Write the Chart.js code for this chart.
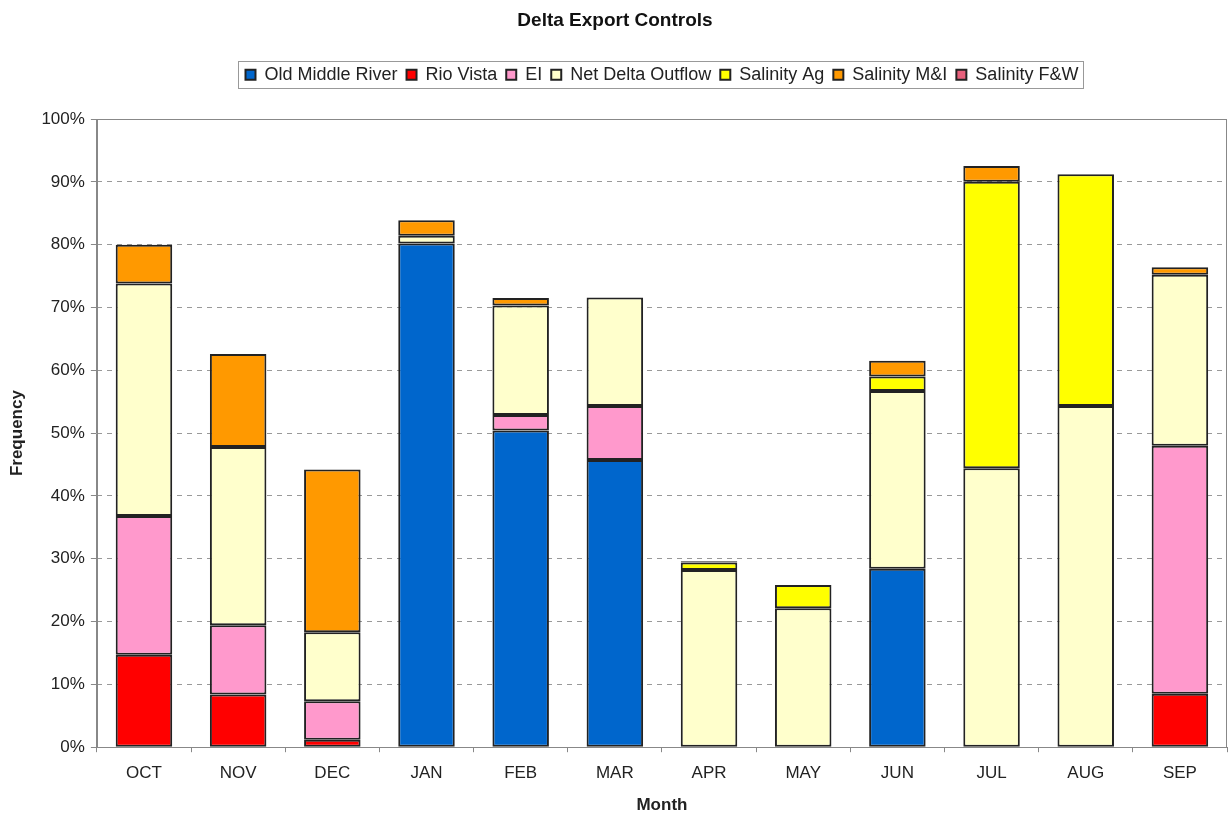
<!DOCTYPE html>
<html>
<head>
<meta charset="utf-8">
<script src="https://cdn.jsdelivr.net/npm/chart.js@4/dist/chart.umd.min.js"></script>
<style>
  html, body { margin: 0; padding: 0; background: #fff; }
  canvas { display: block; }
</style>
</head>
<body>
<canvas id="chart" width="1230" height="817"></canvas>
<script>
var months = ['OCT', 'NOV', 'DEC', 'JAN', 'FEB', 'MAR', 'APR', 'MAY', 'JUN', 'JUL', 'AUG', 'SEP'];

// percent of time each control governs exports, stacked per month
var oldMiddleRiver  = [null, null, null, 80.2, 50.4, 45.7, null, null, 28.4, null, null, null];
var rioVista        = [14.7, 8.4, 1.2, null, null, null, null, null, null, null, null, 8.5];
var ei              = [22.1, 11.0, 6.1, null, 2.5, 8.6, null, null, null, null, null, 39.5];
var netDeltaOutflow = [37.0, 28.4, 11.0, 1.2, 17.4, 17.3, 28.2, 22.1, 28.3, 44.4, 54.3, 27.2];
var salinityAg      = [null, null, null, null, null, null, 1.2, 3.7, 2.3, 45.6, 36.9, null];
var salinityMI      = [6.2, 14.8, 25.9, 2.5, 1.2, null, 0.2, null, 2.5, 2.5, null, 1.2];
var salinityFW      = [null, null, null, null, null, null, null, null, null, null, null, null];

var yTicks = [0, 10, 20, 30, 40, 50, 60, 70, 80, 90, 100];

var legendBorder = {
  id: 'legendBorder',
  afterDraw: function(chart) {
    var boxes = chart.legend.legendHitBoxes;
    if (!boxes || !boxes.length) return;
    var l = Infinity, r = -Infinity, t = Infinity, b = -Infinity;
    boxes.forEach(function(h) {
      l = Math.min(l, h.left); r = Math.max(r, h.left + h.width);
      t = Math.min(t, h.top); b = Math.max(b, h.top + h.height);
    });
    var ctx = chart.ctx;
    ctx.save();
    ctx.strokeStyle = '#999';
    ctx.lineWidth = 1;
    ctx.strokeRect(Math.round(l - 7) + 0.5, Math.round(t - 5) + 0.5, Math.round(r - l + 12), Math.round(b - t + 9));
    ctx.restore();
  }
};

var plotBorder = {
  id: 'plotBorder',
  afterDatasetsDraw: function(chart) {
    var a = chart.chartArea, ctx = chart.ctx;
    ctx.save();
    ctx.strokeStyle = '#888';
    ctx.lineWidth = 1;
    ctx.strokeRect(Math.round(a.left) + 0.5, Math.round(a.top) + 0.5, Math.round(a.right - a.left) - 1, Math.round(a.bottom - a.top));
    ctx.restore();
  }
};

function series(label, values, color) {
  return {
    label: label,
    data: values,
    backgroundColor: color,
    borderColor: '#222',
    borderWidth: 2,
    borderSkipped: false,
    barPercentage: 0.6,
    categoryPercentage: 1.0
  };
}

Chart.defaults.font.family = '"Liberation Sans", Arial, sans-serif';
Chart.defaults.color = '#222';

new Chart(document.getElementById('chart').getContext('2d'), {
  type: 'bar',
  data: {
    labels: months,
    datasets: [
      series('Old Middle River', oldMiddleRiver, '#0066CC'),
      series('Rio Vista', rioVista, '#FF0000'),
      series('EI', ei, '#FF99CC'),
      series('Net Delta Outflow', netDeltaOutflow, '#FFFFCC'),
      series('Salinity Ag', salinityAg, '#FFFF00'),
      series('Salinity M&I', salinityMI, '#FF9900'),
      series('Salinity F&W', salinityFW, '#E8607C')
    ]
  },
  options: {
    responsive: false,
    animation: false,
    layout: { padding: { left: 3, right: 3, top: 0, bottom: 1 } },
    plugins: {
      title: {
        display: true,
        text: 'Delta Export Controls',
        font: { size: 19, weight: 'bold' },
        color: '#111',
        padding: { top: 9, bottom: 25 }
      },
      subtitle: {
        // empty spacer between legend and plot area
        display: true,
        text: '',
        weight: 500,
        font: { size: 1 },
        padding: { top: 0, bottom: 24 }
      },
      legend: {
        display: true,
        position: 'top',
        fullSize: false,
        labels: {
          boxWidth: 10,
          boxHeight: 10,
          padding: 9,
          font: { size: 18 },
          color: '#222'
        }
      },
      tooltip: { enabled: false }
    },
    scales: {
      x: {
        stacked: true,
        grid: { display: true, drawOnChartArea: false, drawTicks: true, tickLength: 5, color: '#888', offset: true },
        border: { color: '#888' },
        ticks: { font: { size: 17 }, color: '#222', padding: 11 },
        title: { display: true, text: 'Month', font: { size: 17, weight: 'bold' }, color: '#222', padding: { top: 1, bottom: 0 } }
      },
      y: {
        stacked: true,
        min: 0,
        max: 100,
        afterBuildTicks: function(axis) {
          axis.ticks = yTicks.map(function(v) { return { value: v }; });
        },
        grid: { color: '#999', tickLength: 6, tickColor: '#888' },
        border: { color: '#888', dash: [5, 5] },
        ticks: {
          font: { size: 17 },
          color: '#222',
          padding: 6,
          callback: function(v) { return v + '%'; }
        },
        title: { display: true, text: 'Frequency', font: { size: 17, weight: 'bold' }, color: '#222', padding: { top: 4, bottom: 8 } }
      }
    }
  },
  plugins: [legendBorder, plotBorder]
});
</script>
</body>
</html>
